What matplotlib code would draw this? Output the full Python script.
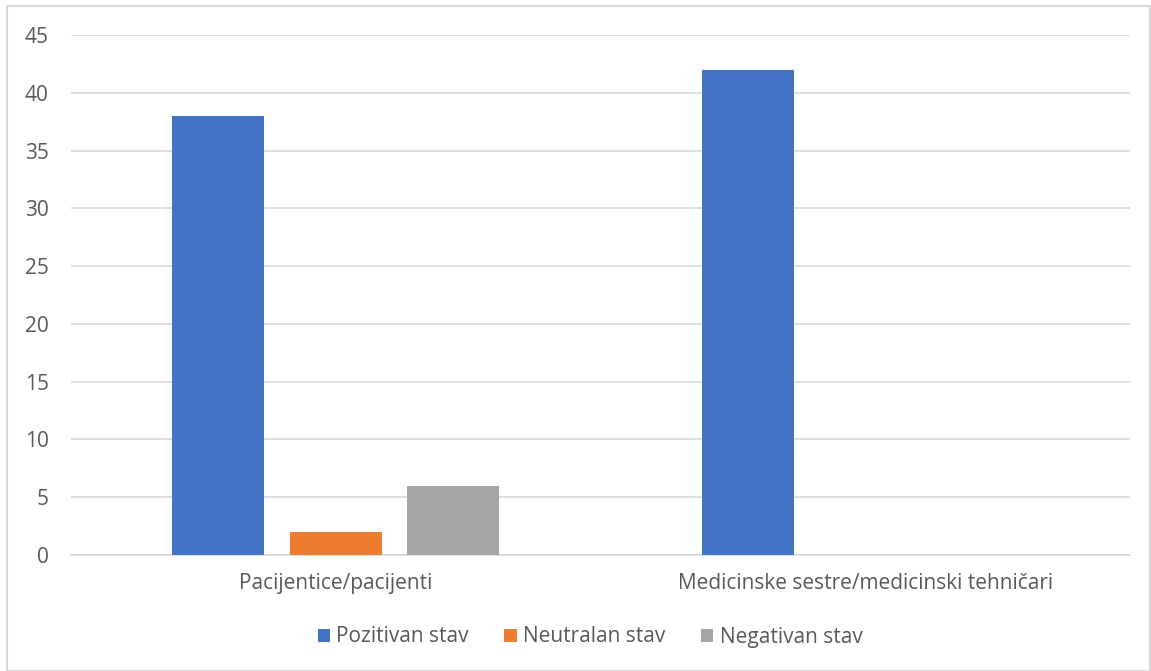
import matplotlib
matplotlib.use("Agg")
import matplotlib.pyplot as plt
import numpy as np
from matplotlib.patches import Rectangle

categories = ["Pacijentice/pacijenti", "Medicinske sestre/medicinski tehničari"]
series_names = ["Pozitivan stav", "Neutralan stav", "Negativan stav"]
pozitivan = [38, 42]
neutralan = [2, 0]
negativan = [6, 0]

colors = ["#4472C4", "#ED7D31", "#A5A5A5"]
text_color = "#595959"

plt.rcParams["font.family"] = ["Open Sans", "DejaVu Sans"]

W, H = 1151, 671
fig = plt.figure(figsize=(W / 100, H / 100), dpi=100)
ax = fig.add_axes([71 / W, (H - 555) / H, (1130 - 71) / W, (555 - 35) / H])

x = np.arange(len(categories))
width = 0.174
offset = 0.222
for i, (vals, name) in enumerate(zip([pozitivan, neutralan, negativan], series_names)):
    ax.bar(x + (i - 1) * offset, vals, width, color=colors[i], label=name, zorder=3)

ax.set_xlim(-0.5, 1.5)
ax.set_ylim(0, 45)
ax.set_yticks(range(0, 50, 5))
ax.yaxis.grid(True, color="#D9D9D9", linewidth=1.2, zorder=0)
ax.set_xticks(x)
ax.set_xticklabels(categories)
ax.tick_params(axis="both", length=0, labelsize=15, colors=text_color)
ax.tick_params(axis="x", pad=13)
ax.tick_params(axis="y", pad=16)
for s in ax.spines.values():
    s.set_visible(False)
ax.spines["bottom"].set_visible(True)
ax.spines["bottom"].set_color("#D9D9D9")
ax.spines["bottom"].set_linewidth(1.2)

fig.legend(loc="center", bbox_to_anchor=(590 / W, (H - 637) / H), ncol=3,
           frameon=False, fontsize=15, handlelength=0.6, handleheight=0.6,
           handletextpad=0.3, columnspacing=1.7, labelcolor=text_color)

fig.patches.append(Rectangle((7 / W, 0), (1150 - 7) / W, (H - 6) / H,
                             transform=fig.transFigure, fill=False,
                             edgecolor="#D9D9D9", linewidth=1.5))

fig.savefig("out.png", dpi=100, facecolor="white")
